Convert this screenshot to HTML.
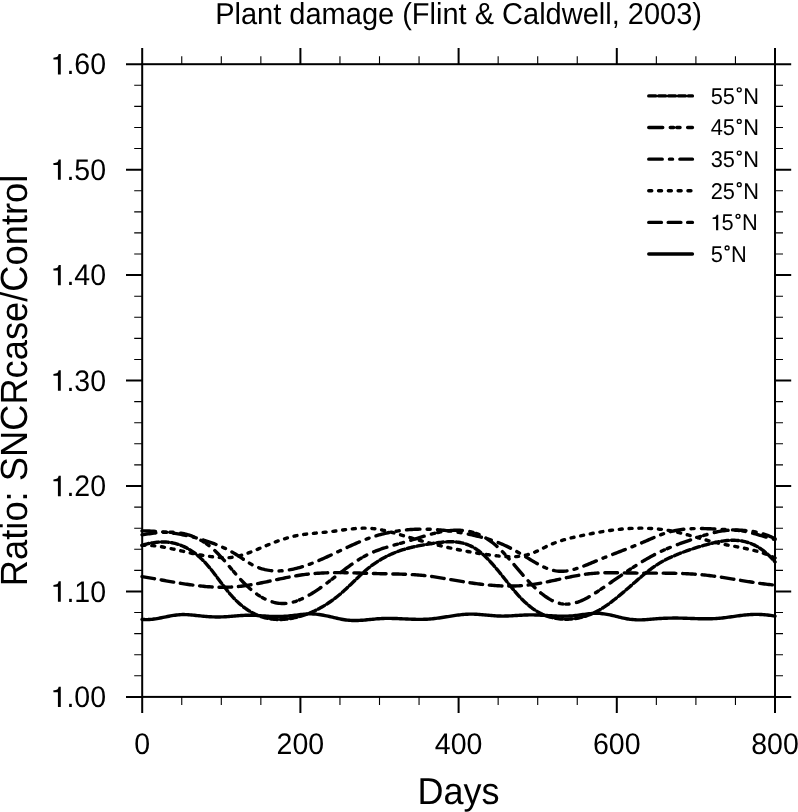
<!DOCTYPE html>
<html><head><meta charset="utf-8"><style>
html,body{margin:0;padding:0;background:#fff;width:798px;height:812px;overflow:hidden}
svg{display:block;will-change:transform}
text{font-family:"Liberation Sans",sans-serif;fill:#000;text-rendering:geometricPrecision}
</style></head><body>
<svg width="798" height="812" viewBox="0 0 798 812">
<rect width="798" height="812" fill="#fff"/>
<text transform="translate(458.6 24.3) scale(1 1.0436)" text-anchor="middle" font-size="29">Plant damage (Flint &amp; Caldwell, 2003)</text>
<g fill="none" stroke="#000" stroke-width="3.4" stroke-linecap="round" stroke-linejoin="round">
<path d="M142.0 619.35 143.5 619.48 145.0 619.56 146.5 619.58 148.0 619.55 149.5 619.48 151.0 619.36 152.5 619.21 154.0 619.02 155.5 618.81 157.0 618.57 158.5 618.31 160.0 618.03 161.5 617.74 163.0 617.44 164.5 617.14 166.0 616.83 167.5 616.53 169.0 616.23 170.5 615.95 172.0 615.68 173.5 615.43 175.0 615.20 176.5 615.00 178.0 614.84 179.5 614.70 181.0 614.61 182.5 614.56 184.0 614.55 185.5 614.58 187.0 614.65 188.5 614.74 190.0 614.86 191.5 614.99 193.0 615.14 194.5 615.30 196.0 615.46 197.5 615.61 199.0 615.77 200.5 615.92 202.0 616.07 203.5 616.21 205.0 616.35 206.5 616.47 208.0 616.58 209.5 616.69 211.0 616.78 212.5 616.85 214.0 616.91 215.5 616.95 217.0 616.98 218.5 616.98 220.0 616.96 221.5 616.92 223.0 616.86 224.5 616.79 226.0 616.70 227.5 616.60 229.0 616.49 230.5 616.37 232.0 616.25 233.5 616.12 235.0 616.00 236.5 615.87 238.0 615.75 239.5 615.64 241.0 615.54 242.5 615.44 244.0 615.36 245.5 615.30 247.0 615.25 248.5 615.23 250.0 615.22 251.5 615.24 253.0 615.28 254.5 615.35 256.0 615.42 257.5 615.51 259.0 615.61 260.5 615.72 262.0 615.83 263.5 615.94 265.0 616.05 266.5 616.15 268.0 616.24 269.5 616.33 271.0 616.40 272.5 616.45 274.0 616.49 275.5 616.52 277.0 616.53 278.5 616.52 280.0 616.49 281.5 616.45 283.0 616.39 284.5 616.31 286.0 616.21 287.5 616.10 289.0 615.96 290.5 615.81 292.0 615.64 293.5 615.46 295.0 615.27 296.5 615.07 298.0 614.87 299.5 614.68 301.0 614.50 302.5 614.34 304.0 614.19 305.5 614.07 307.0 613.97 308.5 613.91 310.0 613.88 311.5 613.90 313.0 613.96 314.5 614.05 316.0 614.18 317.5 614.35 319.0 614.54 320.5 614.76 322.0 615.01 323.5 615.27 325.0 615.56 326.5 615.87 328.0 616.19 329.5 616.52 331.0 616.86 332.5 617.21 334.0 617.56 335.5 617.91 337.0 618.26 338.5 618.59 340.0 618.91 341.5 619.21 343.0 619.49 344.5 619.74 346.0 619.96 347.5 620.15 349.0 620.29 350.5 620.40 352.0 620.47 353.5 620.51 355.0 620.52 356.5 620.50 358.0 620.45 359.5 620.38 361.0 620.30 362.5 620.19 364.0 620.07 365.5 619.94 367.0 619.80 368.5 619.66 370.0 619.51 371.5 619.36 373.0 619.21 374.5 619.07 376.0 618.93 377.5 618.81 379.0 618.70 380.5 618.60 382.0 618.52 383.5 618.47 385.0 618.42 386.5 618.40 388.0 618.39 389.5 618.39 391.0 618.41 392.5 618.44 394.0 618.47 395.5 618.52 397.0 618.57 398.5 618.63 400.0 618.69 401.5 618.76 403.0 618.83 404.5 618.90 406.0 618.97 407.5 619.04 409.0 619.10 410.5 619.16 412.0 619.22 413.5 619.27 415.0 619.31 416.5 619.34 418.0 619.36 419.5 619.37 421.0 619.37 422.5 619.35 424.0 619.32 425.5 619.27 427.0 619.20 428.5 619.11 430.0 619.01 431.5 618.88 433.0 618.73 434.5 618.56 436.0 618.38 437.5 618.18 439.0 617.97 440.5 617.75 442.0 617.52 443.5 617.29 445.0 617.05 446.5 616.80 448.0 616.56 449.5 616.32 451.0 616.08 452.5 615.85 454.0 615.62 455.5 615.40 457.0 615.19 458.5 615.00 460.0 614.82 461.5 614.65 463.0 614.51 464.5 614.38 466.0 614.28 467.5 614.20 469.0 614.14 470.5 614.12 472.0 614.12 473.5 614.15 475.0 614.20 476.5 614.27 478.0 614.36 479.5 614.47 481.0 614.59 482.5 614.71 484.0 614.85 485.5 614.99 487.0 615.13 488.5 615.27 490.0 615.41 491.5 615.54 493.0 615.66 494.5 615.78 496.0 615.88 497.5 615.96 499.0 616.02 500.5 616.06 502.0 616.08 503.5 616.08 505.0 616.06 506.5 616.02 508.0 615.97 509.5 615.91 511.0 615.83 512.5 615.75 514.0 615.66 515.5 615.57 517.0 615.47 518.5 615.38 520.0 615.29 521.5 615.20 523.0 615.12 524.5 615.04 526.0 614.98 527.5 614.93 529.0 614.90 530.5 614.88 532.0 614.89 533.5 614.91 535.0 614.94 536.5 614.99 538.0 615.04 539.5 615.11 541.0 615.19 542.5 615.27 544.0 615.36 545.5 615.45 547.0 615.54 548.5 615.63 550.0 615.72 551.5 615.81 553.0 615.89 554.5 615.96 556.0 616.02 557.5 616.08 559.0 616.12 560.5 616.16 562.0 616.18 563.5 616.18 565.0 616.17 566.5 616.15 568.0 616.10 569.5 616.04 571.0 615.95 572.5 615.85 574.0 615.71 575.5 615.56 577.0 615.38 578.5 615.18 580.0 614.97 581.5 614.75 583.0 614.53 584.5 614.31 586.0 614.10 587.5 613.91 589.0 613.73 590.5 613.57 592.0 613.45 593.5 613.36 595.0 613.31 596.5 613.30 598.0 613.34 599.5 613.42 601.0 613.53 602.5 613.69 604.0 613.87 605.5 614.10 607.0 614.35 608.5 614.63 610.0 614.93 611.5 615.26 613.0 615.61 614.5 615.97 616.0 616.34 617.5 616.71 619.0 617.08 620.5 617.44 622.0 617.79 623.5 618.12 625.0 618.43 626.5 618.71 628.0 618.96 629.5 619.19 631.0 619.38 632.5 619.54 634.0 619.67 635.5 619.77 637.0 619.84 638.5 619.88 640.0 619.89 641.5 619.86 643.0 619.81 644.5 619.74 646.0 619.64 647.5 619.53 649.0 619.41 650.5 619.28 652.0 619.15 653.5 619.01 655.0 618.88 656.5 618.76 658.0 618.65 659.5 618.55 661.0 618.46 662.5 618.38 664.0 618.31 665.5 618.24 667.0 618.19 668.5 618.14 670.0 618.10 671.5 618.08 673.0 618.06 674.5 618.05 676.0 618.05 677.5 618.06 679.0 618.08 680.5 618.11 682.0 618.14 683.5 618.18 685.0 618.23 686.5 618.28 688.0 618.33 689.5 618.39 691.0 618.44 692.5 618.50 694.0 618.55 695.5 618.60 697.0 618.65 698.5 618.69 700.0 618.73 701.5 618.77 703.0 618.79 704.5 618.81 706.0 618.81 707.5 618.81 709.0 618.79 710.5 618.76 712.0 618.72 713.5 618.66 715.0 618.59 716.5 618.50 718.0 618.39 719.5 618.26 721.0 618.11 722.5 617.95 724.0 617.78 725.5 617.59 727.0 617.40 728.5 617.19 730.0 616.98 731.5 616.77 733.0 616.56 734.5 616.34 736.0 616.13 737.5 615.92 739.0 615.71 740.5 615.51 742.0 615.33 743.5 615.15 745.0 614.99 746.5 614.84 748.0 614.70 749.5 614.59 751.0 614.50 752.5 614.43 754.0 614.38 755.5 614.36 757.0 614.36 758.5 614.39 760.0 614.44 761.5 614.51 763.0 614.61 764.5 614.72 766.0 614.86 767.5 615.03 769.0 615.21 770.5 615.42 772.0 615.64 773.5 615.89 775.0 616.16"/>
<path d="M142.0 576.61 143.5 576.86 145.0 577.11 146.5 577.36 148.0 577.62 149.5 577.88 151.0 578.14 152.5 578.40 154.0 578.66 155.5 578.93 157.0 579.20 158.5 579.47 160.0 579.73 161.5 580.00 163.0 580.27 164.5 580.54 166.0 580.81 167.5 581.07 169.0 581.34 170.5 581.60 172.0 581.86 173.5 582.12 175.0 582.38 176.5 582.63 178.0 582.88 179.5 583.12 181.0 583.37 182.5 583.60 184.0 583.84 185.5 584.06 187.0 584.29 188.5 584.51 190.0 584.72 191.5 584.92 193.0 585.12 194.5 585.31 196.0 585.50 197.5 585.68 199.0 585.85 200.5 586.01 202.0 586.16 203.5 586.31 205.0 586.44 206.5 586.57 208.0 586.69 209.5 586.79 211.0 586.89 212.5 586.98 214.0 587.05 215.5 587.12 217.0 587.17 218.5 587.21 220.0 587.24 221.5 587.26 223.0 587.26 224.5 587.25 226.0 587.23 227.5 587.19 229.0 587.14 230.5 587.08 232.0 587.00 233.5 586.90 235.0 586.79 236.5 586.67 238.0 586.53 239.5 586.37 241.0 586.20 242.5 586.02 244.0 585.83 245.5 585.62 247.0 585.40 248.5 585.17 250.0 584.93 251.5 584.68 253.0 584.42 254.5 584.16 256.0 583.88 257.5 583.60 259.0 583.31 260.5 583.02 262.0 582.72 263.5 582.41 265.0 582.10 266.5 581.79 268.0 581.47 269.5 581.16 271.0 580.84 272.5 580.51 274.0 580.19 275.5 579.87 277.0 579.55 278.5 579.23 280.0 578.92 281.5 578.60 283.0 578.29 284.5 577.98 286.0 577.68 287.5 577.38 289.0 577.09 290.5 576.80 292.0 576.52 293.5 576.25 295.0 575.98 296.5 575.73 298.0 575.48 299.5 575.24 301.0 575.02 302.5 574.80 304.0 574.60 305.5 574.41 307.0 574.23 308.5 574.06 310.0 573.90 311.5 573.76 313.0 573.62 314.5 573.50 316.0 573.38 317.5 573.28 319.0 573.18 320.5 573.09 322.0 573.01 323.5 572.94 325.0 572.88 326.5 572.83 328.0 572.78 329.5 572.74 331.0 572.71 332.5 572.68 334.0 572.67 335.5 572.65 337.0 572.65 338.5 572.65 340.0 572.65 341.5 572.66 343.0 572.67 344.5 572.69 346.0 572.71 347.5 572.74 349.0 572.77 350.5 572.80 352.0 572.84 353.5 572.88 355.0 572.92 356.5 572.96 358.0 573.01 359.5 573.05 361.0 573.10 362.5 573.15 364.0 573.20 365.5 573.25 367.0 573.29 368.5 573.34 370.0 573.39 371.5 573.44 373.0 573.49 374.5 573.53 376.0 573.57 377.5 573.62 379.0 573.65 380.5 573.69 382.0 573.72 383.5 573.76 385.0 573.79 386.5 573.81 388.0 573.84 389.5 573.87 391.0 573.90 392.5 573.93 394.0 573.96 395.5 573.99 397.0 574.02 398.5 574.06 400.0 574.09 401.5 574.14 403.0 574.18 404.5 574.23 406.0 574.29 407.5 574.35 409.0 574.42 410.5 574.49 412.0 574.57 413.5 574.66 415.0 574.76 416.5 574.86 418.0 574.97 419.5 575.09 421.0 575.22 422.5 575.37 424.0 575.52 425.5 575.68 427.0 575.86 428.5 576.04 430.0 576.24 431.5 576.45 433.0 576.66 434.5 576.88 436.0 577.11 437.5 577.35 439.0 577.59 440.5 577.84 442.0 578.09 443.5 578.35 445.0 578.61 446.5 578.87 448.0 579.13 449.5 579.39 451.0 579.66 452.5 579.92 454.0 580.18 455.5 580.43 457.0 580.69 458.5 580.94 460.0 581.19 461.5 581.44 463.0 581.68 464.5 581.92 466.0 582.15 467.5 582.38 469.0 582.61 470.5 582.83 472.0 583.05 473.5 583.26 475.0 583.47 476.5 583.67 478.0 583.86 479.5 584.05 481.0 584.23 482.5 584.41 484.0 584.57 485.5 584.73 487.0 584.89 488.5 585.03 490.0 585.17 491.5 585.30 493.0 585.41 494.5 585.52 496.0 585.62 497.5 585.72 499.0 585.80 500.5 585.87 502.0 585.93 503.5 585.98 505.0 586.02 506.5 586.04 508.0 586.06 509.5 586.07 511.0 586.06 512.5 586.04 514.0 586.01 515.5 585.96 517.0 585.90 518.5 585.83 520.0 585.74 521.5 585.65 523.0 585.53 524.5 585.40 526.0 585.26 527.5 585.10 529.0 584.93 530.5 584.74 532.0 584.54 533.5 584.32 535.0 584.09 536.5 583.85 538.0 583.60 539.5 583.34 541.0 583.06 542.5 582.78 544.0 582.49 545.5 582.19 547.0 581.89 548.5 581.58 550.0 581.26 551.5 580.95 553.0 580.62 554.5 580.30 556.0 579.97 557.5 579.64 559.0 579.31 560.5 578.98 562.0 578.65 563.5 578.32 565.0 578.00 566.5 577.68 568.0 577.36 569.5 577.05 571.0 576.75 572.5 576.45 574.0 576.15 575.5 575.87 577.0 575.59 578.5 575.33 580.0 575.07 581.5 574.83 583.0 574.60 584.5 574.38 586.0 574.17 587.5 573.98 589.0 573.80 590.5 573.64 592.0 573.50 593.5 573.37 595.0 573.25 596.5 573.15 598.0 573.06 599.5 572.99 601.0 572.92 602.5 572.87 604.0 572.83 605.5 572.79 607.0 572.77 608.5 572.75 610.0 572.75 611.5 572.74 613.0 572.75 614.5 572.76 616.0 572.77 617.5 572.79 619.0 572.81 620.5 572.84 622.0 572.87 623.5 572.89 625.0 572.92 626.5 572.95 628.0 572.97 629.5 573.00 631.0 573.02 632.5 573.04 634.0 573.05 635.5 573.07 637.0 573.08 638.5 573.09 640.0 573.10 641.5 573.10 643.0 573.11 644.5 573.11 646.0 573.11 647.5 573.12 649.0 573.12 650.5 573.12 652.0 573.12 653.5 573.12 655.0 573.13 656.5 573.13 658.0 573.13 659.5 573.14 661.0 573.14 662.5 573.15 664.0 573.16 665.5 573.18 667.0 573.19 668.5 573.21 670.0 573.23 671.5 573.25 673.0 573.28 674.5 573.31 676.0 573.34 677.5 573.38 679.0 573.42 680.5 573.47 682.0 573.52 683.5 573.58 685.0 573.64 686.5 573.71 688.0 573.78 689.5 573.86 691.0 573.94 692.5 574.03 694.0 574.13 695.5 574.23 697.0 574.34 698.5 574.46 700.0 574.59 701.5 574.72 703.0 574.86 704.5 575.01 706.0 575.17 707.5 575.33 709.0 575.51 710.5 575.69 712.0 575.88 713.5 576.08 715.0 576.28 716.5 576.49 718.0 576.70 719.5 576.92 721.0 577.15 722.5 577.38 724.0 577.61 725.5 577.84 727.0 578.08 728.5 578.33 730.0 578.57 731.5 578.82 733.0 579.07 734.5 579.32 736.0 579.57 737.5 579.82 739.0 580.07 740.5 580.32 742.0 580.58 743.5 580.82 745.0 581.07 746.5 581.32 748.0 581.56 749.5 581.80 751.0 582.04 752.5 582.28 754.0 582.51 755.5 582.73 757.0 582.95 758.5 583.17 760.0 583.38 761.5 583.59 763.0 583.78 764.5 583.98 766.0 584.16 767.5 584.34 769.0 584.51 770.5 584.67 772.0 584.82 773.5 584.96 775.0 585.10" stroke-dasharray="12.7 6.75"/>
<path d="M142.0 545.36 143.5 545.33 145.0 545.32 146.5 545.34 148.0 545.38 149.5 545.45 151.0 545.55 152.5 545.67 154.0 545.81 155.5 545.97 157.0 546.15 158.5 546.35 160.0 546.56 161.5 546.80 163.0 547.04 164.5 547.31 166.0 547.58 167.5 547.87 169.0 548.17 170.5 548.48 172.0 548.80 173.5 549.12 175.0 549.45 176.5 549.79 178.0 550.13 179.5 550.48 181.0 550.83 182.5 551.17 184.0 551.52 185.5 551.87 187.0 552.21 188.5 552.55 190.0 552.89 191.5 553.22 193.0 553.55 194.5 553.86 196.0 554.17 197.5 554.47 199.0 554.75 200.5 555.03 202.0 555.29 203.5 555.54 205.0 555.78 206.5 556.00 208.0 556.21 209.5 556.41 211.0 556.60 212.5 556.78 214.0 556.94 215.5 557.09 217.0 557.24 218.5 557.36 220.0 557.48 221.5 557.58 223.0 557.66 224.5 557.71 226.0 557.73 227.5 557.70 229.0 557.63 230.5 557.51 232.0 557.33 233.5 557.12 235.0 556.86 236.5 556.55 238.0 556.21 239.5 555.84 241.0 555.42 242.5 554.98 244.0 554.51 245.5 554.01 247.0 553.48 248.5 552.93 250.0 552.37 251.5 551.78 253.0 551.18 254.5 550.57 256.0 549.95 257.5 549.32 259.0 548.68 260.5 548.04 262.0 547.40 263.5 546.76 265.0 546.13 266.5 545.50 268.0 544.88 269.5 544.26 271.0 543.66 272.5 543.06 274.0 542.48 275.5 541.91 277.0 541.35 278.5 540.81 280.0 540.28 281.5 539.76 283.0 539.26 284.5 538.78 286.0 538.32 287.5 537.88 289.0 537.45 290.5 537.05 292.0 536.67 293.5 536.32 295.0 535.99 296.5 535.68 298.0 535.39 299.5 535.12 301.0 534.87 302.5 534.63 304.0 534.41 305.5 534.21 307.0 534.02 308.5 533.84 310.0 533.67 311.5 533.51 313.0 533.36 314.5 533.21 316.0 533.07 317.5 532.93 319.0 532.79 320.5 532.66 322.0 532.52 323.5 532.38 325.0 532.24 326.5 532.09 328.0 531.93 329.5 531.77 331.0 531.60 332.5 531.42 334.0 531.23 335.5 531.03 337.0 530.83 338.5 530.62 340.0 530.42 341.5 530.21 343.0 530.00 344.5 529.80 346.0 529.60 347.5 529.41 349.0 529.22 350.5 529.05 352.0 528.88 353.5 528.73 355.0 528.59 356.5 528.47 358.0 528.36 359.5 528.28 361.0 528.21 362.5 528.17 364.0 528.15 365.5 528.15 367.0 528.18 368.5 528.24 370.0 528.33 371.5 528.44 373.0 528.59 374.5 528.76 376.0 528.96 377.5 529.19 379.0 529.43 380.5 529.70 382.0 529.99 383.5 530.30 385.0 530.63 386.5 530.97 388.0 531.33 389.5 531.70 391.0 532.09 392.5 532.49 394.0 532.90 395.5 533.32 397.0 533.75 398.5 534.18 400.0 534.62 401.5 535.06 403.0 535.51 404.5 535.96 406.0 536.41 407.5 536.86 409.0 537.30 410.5 537.74 412.0 538.18 413.5 538.62 415.0 539.05 416.5 539.48 418.0 539.90 419.5 540.32 421.0 540.74 422.5 541.15 424.0 541.56 425.5 541.96 427.0 542.36 428.5 542.76 430.0 543.15 431.5 543.53 433.0 543.92 434.5 544.29 436.0 544.67 437.5 545.04 439.0 545.40 440.5 545.76 442.0 546.12 443.5 546.47 445.0 546.82 446.5 547.16 448.0 547.50 449.5 547.83 451.0 548.16 452.5 548.49 454.0 548.81 455.5 549.12 457.0 549.43 458.5 549.74 460.0 550.04 461.5 550.34 463.0 550.63 464.5 550.91 466.0 551.19 467.5 551.47 469.0 551.74 470.5 552.01 472.0 552.27 473.5 552.53 475.0 552.78 476.5 553.02 478.0 553.26 479.5 553.50 481.0 553.73 482.5 553.95 484.0 554.17 485.5 554.39 487.0 554.60 488.5 554.80 490.0 555.00 491.5 555.19 493.0 555.38 494.5 555.56 496.0 555.74 497.5 555.91 499.0 556.06 500.5 556.21 502.0 556.34 503.5 556.46 505.0 556.56 506.5 556.64 508.0 556.70 509.5 556.74 511.0 556.75 512.5 556.74 514.0 556.70 515.5 556.62 517.0 556.52 518.5 556.38 520.0 556.20 521.5 555.99 523.0 555.74 524.5 555.44 526.0 555.11 527.5 554.72 529.0 554.29 530.5 553.81 532.0 553.28 533.5 552.70 535.0 552.07 536.5 551.40 538.0 550.69 539.5 549.96 541.0 549.22 542.5 548.46 544.0 547.71 545.5 546.96 547.0 546.23 548.5 545.52 550.0 544.85 551.5 544.20 553.0 543.58 554.5 543.00 556.0 542.43 557.5 541.90 559.0 541.39 560.5 540.90 562.0 540.43 563.5 539.98 565.0 539.55 566.5 539.14 568.0 538.74 569.5 538.36 571.0 537.99 572.5 537.63 574.0 537.28 575.5 536.94 577.0 536.60 578.5 536.28 580.0 535.95 581.5 535.64 583.0 535.32 584.5 535.01 586.0 534.70 587.5 534.39 589.0 534.09 590.5 533.80 592.0 533.51 593.5 533.22 595.0 532.94 596.5 532.66 598.0 532.40 599.5 532.13 601.0 531.87 602.5 531.62 604.0 531.38 605.5 531.14 607.0 530.91 608.5 530.69 610.0 530.48 611.5 530.27 613.0 530.07 614.5 529.88 616.0 529.70 617.5 529.53 619.0 529.36 620.5 529.21 622.0 529.06 623.5 528.93 625.0 528.81 626.5 528.69 628.0 528.59 629.5 528.50 631.0 528.41 632.5 528.34 634.0 528.28 635.5 528.24 637.0 528.20 638.5 528.18 640.0 528.16 641.5 528.16 643.0 528.18 644.5 528.20 646.0 528.24 647.5 528.29 649.0 528.35 650.5 528.43 652.0 528.52 653.5 528.63 655.0 528.74 656.5 528.88 658.0 529.02 659.5 529.19 661.0 529.36 662.5 529.55 664.0 529.76 665.5 529.98 667.0 530.22 668.5 530.47 670.0 530.74 671.5 531.02 673.0 531.32 674.5 531.63 676.0 531.96 677.5 532.30 679.0 532.65 680.5 533.01 682.0 533.38 683.5 533.76 685.0 534.15 686.5 534.55 688.0 534.95 689.5 535.36 691.0 535.78 692.5 536.19 694.0 536.61 695.5 537.04 697.0 537.46 698.5 537.88 700.0 538.31 701.5 538.73 703.0 539.15 704.5 539.57 706.0 539.98 707.5 540.39 709.0 540.80 710.5 541.20 712.0 541.59 713.5 541.97 715.0 542.34 716.5 542.71 718.0 543.06 719.5 543.40 721.0 543.73 722.5 544.05 724.0 544.36 725.5 544.67 727.0 544.96 728.5 545.25 730.0 545.54 731.5 545.82 733.0 546.10 734.5 546.38 736.0 546.66 737.5 546.94 739.0 547.22 740.5 547.51 742.0 547.80 743.5 548.10 745.0 548.40 746.5 548.72 748.0 549.04 749.5 549.38 751.0 549.73 752.5 550.09 754.0 550.46 755.5 550.86 757.0 551.27 758.5 551.69 760.0 552.14 761.5 552.61 763.0 553.10 764.5 553.61 766.0 554.15 767.5 554.71 769.0 555.30 770.5 555.92 772.0 556.57 773.5 557.25 775.0 557.96" stroke-dasharray="3.0 6.8"/>
<path d="M142.0 530.86 143.5 530.88 145.0 530.91 146.5 530.95 148.0 530.99 149.5 531.04 151.0 531.10 152.5 531.18 154.0 531.26 155.5 531.35 157.0 531.45 158.5 531.55 160.0 531.67 161.5 531.80 163.0 531.94 164.5 532.09 166.0 532.25 167.5 532.42 169.0 532.60 170.5 532.79 172.0 532.99 173.5 533.21 175.0 533.43 176.5 533.67 178.0 533.92 179.5 534.18 181.0 534.45 182.5 534.73 184.0 535.03 185.5 535.33 187.0 535.65 188.5 535.99 190.0 536.33 191.5 536.69 193.0 537.06 194.5 537.45 196.0 537.84 197.5 538.25 199.0 538.68 200.5 539.12 202.0 539.57 203.5 540.03 205.0 540.51 206.5 541.01 208.0 541.52 209.5 542.04 211.0 542.58 212.5 543.13 214.0 543.70 215.5 544.28 217.0 544.88 218.5 545.49 220.0 546.12 221.5 546.77 223.0 547.44 224.5 548.13 226.0 548.84 227.5 549.58 229.0 550.35 230.5 551.15 232.0 551.98 233.5 552.85 235.0 553.75 236.5 554.70 238.0 555.67 239.5 556.66 241.0 557.67 242.5 558.69 244.0 559.70 245.5 560.69 247.0 561.67 248.5 562.61 250.0 563.51 251.5 564.37 253.0 565.16 254.5 565.90 256.0 566.59 257.5 567.22 259.0 567.79 260.5 568.31 262.0 568.79 263.5 569.21 265.0 569.58 266.5 569.91 268.0 570.19 269.5 570.42 271.0 570.61 272.5 570.76 274.0 570.87 275.5 570.93 277.0 570.96 278.5 570.95 280.0 570.91 281.5 570.82 283.0 570.71 284.5 570.56 286.0 570.38 287.5 570.17 289.0 569.93 290.5 569.66 292.0 569.37 293.5 569.05 295.0 568.70 296.5 568.33 298.0 567.94 299.5 567.52 301.0 567.08 302.5 566.62 304.0 566.14 305.5 565.64 307.0 565.13 308.5 564.59 310.0 564.04 311.5 563.47 313.0 562.89 314.5 562.29 316.0 561.68 317.5 561.06 319.0 560.42 320.5 559.78 322.0 559.12 323.5 558.45 325.0 557.78 326.5 557.10 328.0 556.41 329.5 555.72 331.0 555.02 332.5 554.31 334.0 553.61 335.5 552.90 337.0 552.19 338.5 551.48 340.0 550.77 341.5 550.05 343.0 549.35 344.5 548.64 346.0 547.94 347.5 547.24 349.0 546.54 350.5 545.85 352.0 545.17 353.5 544.50 355.0 543.83 356.5 543.18 358.0 542.53 359.5 541.90 361.0 541.27 362.5 540.66 364.0 540.07 365.5 539.48 367.0 538.92 368.5 538.36 370.0 537.83 371.5 537.31 373.0 536.81 374.5 536.33 376.0 535.86 377.5 535.41 379.0 534.98 380.5 534.57 382.0 534.17 383.5 533.79 385.0 533.42 386.5 533.07 388.0 532.74 389.5 532.42 391.0 532.12 392.5 531.83 394.0 531.56 395.5 531.30 397.0 531.06 398.5 530.84 400.0 530.62 401.5 530.43 403.0 530.25 404.5 530.08 406.0 529.92 407.5 529.78 409.0 529.66 410.5 529.55 412.0 529.45 413.5 529.36 415.0 529.29 416.5 529.23 418.0 529.19 419.5 529.15 421.0 529.13 422.5 529.13 424.0 529.13 425.5 529.15 427.0 529.18 428.5 529.22 430.0 529.27 431.5 529.34 433.0 529.41 434.5 529.50 436.0 529.60 437.5 529.71 439.0 529.83 440.5 529.96 442.0 530.10 443.5 530.26 445.0 530.42 446.5 530.59 448.0 530.78 449.5 530.97 451.0 531.17 452.5 531.38 454.0 531.61 455.5 531.84 457.0 532.08 458.5 532.33 460.0 532.59 461.5 532.85 463.0 533.13 464.5 533.41 466.0 533.70 467.5 534.00 469.0 534.31 470.5 534.63 472.0 534.95 473.5 535.28 475.0 535.63 476.5 535.98 478.0 536.34 479.5 536.71 481.0 537.09 482.5 537.49 484.0 537.90 485.5 538.32 487.0 538.76 488.5 539.21 490.0 539.68 491.5 540.17 493.0 540.67 494.5 541.20 496.0 541.74 497.5 542.30 499.0 542.89 500.5 543.49 502.0 544.12 503.5 544.77 505.0 545.45 506.5 546.15 508.0 546.87 509.5 547.62 511.0 548.40 512.5 549.19 514.0 550.01 515.5 550.84 517.0 551.69 518.5 552.55 520.0 553.43 521.5 554.31 523.0 555.21 524.5 556.10 526.0 557.01 527.5 557.91 529.0 558.82 530.5 559.72 532.0 560.62 533.5 561.51 535.0 562.38 536.5 563.24 538.0 564.07 539.5 564.88 541.0 565.66 542.5 566.40 544.0 567.11 545.5 567.77 547.0 568.39 548.5 568.96 550.0 569.48 551.5 569.94 553.0 570.33 554.5 570.67 556.0 570.93 557.5 571.12 559.0 571.25 560.5 571.30 562.0 571.30 563.5 571.24 565.0 571.12 566.5 570.94 568.0 570.72 569.5 570.45 571.0 570.13 572.5 569.77 574.0 569.38 575.5 568.95 577.0 568.48 578.5 567.99 580.0 567.47 581.5 566.92 583.0 566.36 584.5 565.77 586.0 565.17 587.5 564.56 589.0 563.94 590.5 563.32 592.0 562.69 593.5 562.06 595.0 561.44 596.5 560.82 598.0 560.21 599.5 559.60 601.0 558.99 602.5 558.39 604.0 557.79 605.5 557.20 607.0 556.61 608.5 556.02 610.0 555.44 611.5 554.85 613.0 554.27 614.5 553.69 616.0 553.11 617.5 552.52 619.0 551.94 620.5 551.36 622.0 550.78 623.5 550.19 625.0 549.61 626.5 549.02 628.0 548.43 629.5 547.83 631.0 547.24 632.5 546.64 634.0 546.03 635.5 545.42 637.0 544.80 638.5 544.18 640.0 543.56 641.5 542.93 643.0 542.29 644.5 541.64 646.0 540.99 647.5 540.33 649.0 539.67 650.5 539.02 652.0 538.37 653.5 537.72 655.0 537.08 656.5 536.46 658.0 535.85 659.5 535.26 661.0 534.69 662.5 534.14 664.0 533.61 665.5 533.12 667.0 532.65 668.5 532.21 670.0 531.81 671.5 531.42 673.0 531.07 674.5 530.74 676.0 530.44 677.5 530.17 679.0 529.91 680.5 529.69 682.0 529.48 683.5 529.30 685.0 529.14 686.5 529.00 688.0 528.88 689.5 528.78 691.0 528.70 692.5 528.63 694.0 528.58 695.5 528.54 697.0 528.52 698.5 528.51 700.0 528.51 701.5 528.53 703.0 528.55 704.5 528.59 706.0 528.63 707.5 528.68 709.0 528.74 710.5 528.80 712.0 528.87 713.5 528.94 715.0 529.02 716.5 529.10 718.0 529.18 719.5 529.26 721.0 529.34 722.5 529.42 724.0 529.49 725.5 529.56 727.0 529.63 728.5 529.70 730.0 529.76 731.5 529.82 733.0 529.87 734.5 529.93 736.0 530.00 737.5 530.07 739.0 530.14 740.5 530.23 742.0 530.32 743.5 530.43 745.0 530.56 746.5 530.70 748.0 530.85 749.5 531.03 751.0 531.23 752.5 531.45 754.0 531.70 755.5 531.97 757.0 532.28 758.5 532.61 760.0 532.97 761.5 533.37 763.0 533.81 764.5 534.28 766.0 534.80 767.5 535.35 769.0 535.95 770.5 536.59 772.0 537.28 773.5 538.02 775.0 538.81" stroke-dasharray="13.5 7.2 3.1 7.3"/>
<path d="M142.0 534.82 143.5 534.59 145.0 534.36 146.5 534.13 148.0 533.91 149.5 533.70 151.0 533.49 152.5 533.30 154.0 533.11 155.5 532.94 157.0 532.78 158.5 532.64 160.0 532.51 161.5 532.40 163.0 532.31 164.5 532.24 166.0 532.20 167.5 532.17 169.0 532.17 170.5 532.19 172.0 532.24 173.5 532.32 175.0 532.43 176.5 532.57 178.0 532.74 179.5 532.94 181.0 533.18 182.5 533.46 184.0 533.77 185.5 534.12 187.0 534.51 188.5 534.94 190.0 535.42 191.5 535.94 193.0 536.50 194.5 537.11 196.0 537.77 197.5 538.48 199.0 539.23 200.5 540.04 202.0 540.90 203.5 541.82 205.0 542.79 206.5 543.82 208.0 544.91 209.5 546.06 211.0 547.26 212.5 548.53 214.0 549.87 215.5 551.27 217.0 552.73 218.5 554.26 220.0 555.83 221.5 557.46 223.0 559.13 224.5 560.83 226.0 562.56 227.5 564.31 229.0 566.08 230.5 567.85 232.0 569.62 233.5 571.39 235.0 573.15 236.5 574.88 238.0 576.59 239.5 578.27 241.0 579.91 242.5 581.50 244.0 583.04 245.5 584.53 247.0 585.97 248.5 587.36 250.0 588.69 251.5 589.97 253.0 591.20 254.5 592.37 256.0 593.49 257.5 594.55 259.0 595.55 260.5 596.50 262.0 597.39 263.5 598.22 265.0 598.99 266.5 599.71 268.0 600.36 269.5 600.96 271.0 601.49 272.5 601.96 274.0 602.37 275.5 602.72 277.0 603.01 278.5 603.23 280.0 603.38 281.5 603.48 283.0 603.50 284.5 603.46 286.0 603.36 287.5 603.20 289.0 602.98 290.5 602.69 292.0 602.36 293.5 601.96 295.0 601.52 296.5 601.02 298.0 600.48 299.5 599.89 301.0 599.25 302.5 598.58 304.0 597.86 305.5 597.10 307.0 596.30 308.5 595.47 310.0 594.60 311.5 593.70 313.0 592.77 314.5 591.82 316.0 590.83 317.5 589.82 319.0 588.79 320.5 587.74 322.0 586.67 323.5 585.58 325.0 584.48 326.5 583.36 328.0 582.24 329.5 581.10 331.0 579.95 332.5 578.80 334.0 577.65 335.5 576.49 337.0 575.33 338.5 574.17 340.0 573.02 341.5 571.87 343.0 570.73 344.5 569.60 346.0 568.47 347.5 567.36 349.0 566.27 350.5 565.19 352.0 564.13 353.5 563.09 355.0 562.07 356.5 561.08 358.0 560.11 359.5 559.16 361.0 558.25 362.5 557.37 364.0 556.52 365.5 555.71 367.0 554.93 368.5 554.18 370.0 553.47 371.5 552.79 373.0 552.14 374.5 551.51 376.0 550.91 377.5 550.33 379.0 549.78 380.5 549.25 382.0 548.73 383.5 548.24 385.0 547.75 386.5 547.29 388.0 546.83 389.5 546.39 391.0 545.95 392.5 545.53 394.0 545.10 395.5 544.69 397.0 544.27 398.5 543.86 400.0 543.44 401.5 543.02 403.0 542.60 404.5 542.17 406.0 541.74 407.5 541.29 409.0 540.84 410.5 540.39 412.0 539.93 413.5 539.46 415.0 539.00 416.5 538.53 418.0 538.06 419.5 537.60 421.0 537.13 422.5 536.68 424.0 536.22 425.5 535.78 427.0 535.34 428.5 534.91 430.0 534.49 431.5 534.09 433.0 533.69 434.5 533.31 436.0 532.95 437.5 532.60 439.0 532.27 440.5 531.96 442.0 531.67 443.5 531.41 445.0 531.16 446.5 530.94 448.0 530.75 449.5 530.58 451.0 530.44 452.5 530.33 454.0 530.25 455.5 530.20 457.0 530.19 458.5 530.21 460.0 530.26 461.5 530.35 463.0 530.48 464.5 530.65 466.0 530.86 467.5 531.11 469.0 531.41 470.5 531.75 472.0 532.13 473.5 532.56 475.0 533.04 476.5 533.57 478.0 534.15 479.5 534.79 481.0 535.47 482.5 536.21 484.0 537.01 485.5 537.86 487.0 538.77 488.5 539.74 490.0 540.77 491.5 541.86 493.0 543.02 494.5 544.24 496.0 545.52 497.5 546.87 499.0 548.27 500.5 549.72 502.0 551.23 503.5 552.78 505.0 554.37 506.5 556.00 508.0 557.67 509.5 559.36 511.0 561.09 512.5 562.84 514.0 564.60 515.5 566.37 517.0 568.15 518.5 569.92 520.0 571.68 521.5 573.43 523.0 575.16 524.5 576.85 526.0 578.52 527.5 580.16 529.0 581.76 530.5 583.33 532.0 584.86 533.5 586.35 535.0 587.79 536.5 589.19 538.0 590.54 539.5 591.85 541.0 593.10 542.5 594.29 544.0 595.43 545.5 596.51 547.0 597.53 548.5 598.49 550.0 599.37 551.5 600.20 553.0 600.95 554.5 601.62 556.0 602.23 557.5 602.75 559.0 603.20 560.5 603.56 562.0 603.84 563.5 604.03 565.0 604.14 566.5 604.17 568.0 604.12 569.5 603.99 571.0 603.79 572.5 603.52 574.0 603.18 575.5 602.78 577.0 602.32 578.5 601.80 580.0 601.23 581.5 600.60 583.0 599.93 584.5 599.22 586.0 598.46 587.5 597.66 589.0 596.82 590.5 595.95 592.0 595.06 593.5 594.13 595.0 593.18 596.5 592.22 598.0 591.23 599.5 590.23 601.0 589.21 602.5 588.19 604.0 587.17 605.5 586.13 607.0 585.10 608.5 584.07 610.0 583.03 611.5 581.99 613.0 580.96 614.5 579.92 616.0 578.88 617.5 577.85 619.0 576.82 620.5 575.79 622.0 574.76 623.5 573.74 625.0 572.73 626.5 571.72 628.0 570.71 629.5 569.72 631.0 568.73 632.5 567.74 634.0 566.77 635.5 565.81 637.0 564.85 638.5 563.91 640.0 562.98 641.5 562.06 643.0 561.15 644.5 560.25 646.0 559.37 647.5 558.50 649.0 557.65 650.5 556.82 652.0 556.00 653.5 555.19 655.0 554.41 656.5 553.64 658.0 552.89 659.5 552.16 661.0 551.45 662.5 550.75 664.0 550.07 665.5 549.41 667.0 548.76 668.5 548.13 670.0 547.51 671.5 546.90 673.0 546.31 674.5 545.72 676.0 545.15 677.5 544.58 679.0 544.02 680.5 543.47 682.0 542.93 683.5 542.39 685.0 541.86 686.5 541.33 688.0 540.81 689.5 540.29 691.0 539.77 692.5 539.25 694.0 538.73 695.5 538.21 697.0 537.70 698.5 537.19 700.0 536.69 701.5 536.20 703.0 535.72 704.5 535.24 706.0 534.78 707.5 534.34 709.0 533.90 710.5 533.49 712.0 533.09 713.5 532.71 715.0 532.35 716.5 532.01 718.0 531.69 719.5 531.40 721.0 531.14 722.5 530.90 724.0 530.70 725.5 530.52 727.0 530.37 728.5 530.26 730.0 530.18 731.5 530.14 733.0 530.13 734.5 530.16 736.0 530.23 737.5 530.35 739.0 530.49 740.5 530.68 742.0 530.89 743.5 531.14 745.0 531.42 746.5 531.72 748.0 532.04 749.5 532.39 751.0 532.76 752.5 533.15 754.0 533.55 755.5 533.96 757.0 534.39 758.5 534.82 760.0 535.26 761.5 535.71 763.0 536.16 764.5 536.61 766.0 537.06 767.5 537.50 769.0 537.94 770.5 538.37 772.0 538.79 773.5 539.19 775.0 539.59" stroke-dasharray="14 7.5 3.4 3.1 3.3 7.6"/>
<path d="M142.0 545.29 143.5 544.85 145.0 544.44 146.5 544.05 148.0 543.69 149.5 543.36 151.0 543.06 152.5 542.80 154.0 542.57 155.5 542.37 157.0 542.20 158.5 542.08 160.0 541.99 161.5 541.94 163.0 541.93 164.5 541.96 166.0 542.04 167.5 542.15 169.0 542.32 170.5 542.52 172.0 542.78 173.5 543.08 175.0 543.43 176.5 543.83 178.0 544.28 179.5 544.79 181.0 545.34 182.5 545.96 184.0 546.62 185.5 547.35 187.0 548.13 188.5 548.97 190.0 549.87 191.5 550.83 193.0 551.86 194.5 552.95 196.0 554.10 197.5 555.32 199.0 556.60 200.5 557.96 202.0 559.38 203.5 560.87 205.0 562.43 206.5 564.07 208.0 565.78 209.5 567.56 211.0 569.41 212.5 571.30 214.0 573.24 215.5 575.21 217.0 577.20 218.5 579.20 220.0 581.20 221.5 583.19 223.0 585.17 224.5 587.12 226.0 589.03 227.5 590.91 229.0 592.73 230.5 594.50 232.0 596.20 233.5 597.82 235.0 599.38 236.5 600.88 238.0 602.30 239.5 603.66 241.0 604.95 242.5 606.19 244.0 607.35 245.5 608.46 247.0 609.51 248.5 610.49 250.0 611.42 251.5 612.30 253.0 613.11 254.5 613.87 256.0 614.58 257.5 615.24 259.0 615.84 260.5 616.39 262.0 616.89 263.5 617.35 265.0 617.76 266.5 618.12 268.0 618.43 269.5 618.71 271.0 618.94 272.5 619.12 274.0 619.27 275.5 619.38 277.0 619.44 278.5 619.48 280.0 619.47 281.5 619.43 283.0 619.35 284.5 619.25 286.0 619.10 287.5 618.93 289.0 618.73 290.5 618.50 292.0 618.24 293.5 617.96 295.0 617.64 296.5 617.30 298.0 616.93 299.5 616.53 301.0 616.11 302.5 615.65 304.0 615.16 305.5 614.65 307.0 614.11 308.5 613.53 310.0 612.93 311.5 612.29 313.0 611.63 314.5 610.94 316.0 610.21 317.5 609.46 319.0 608.67 320.5 607.85 322.0 607.00 323.5 606.12 325.0 605.20 326.5 604.26 328.0 603.28 329.5 602.27 331.0 601.23 332.5 600.15 334.0 599.04 335.5 597.90 337.0 596.72 338.5 595.51 340.0 594.27 341.5 592.99 343.0 591.68 344.5 590.33 346.0 588.96 347.5 587.55 349.0 586.12 350.5 584.67 352.0 583.22 353.5 581.76 355.0 580.30 356.5 578.84 358.0 577.40 359.5 575.97 361.0 574.56 362.5 573.19 364.0 571.84 365.5 570.54 367.0 569.27 368.5 568.05 370.0 566.87 371.5 565.74 373.0 564.64 374.5 563.58 376.0 562.55 377.5 561.57 379.0 560.62 380.5 559.71 382.0 558.83 383.5 557.99 385.0 557.18 386.5 556.40 388.0 555.66 389.5 554.94 391.0 554.26 392.5 553.60 394.0 552.97 395.5 552.37 397.0 551.79 398.5 551.24 400.0 550.72 401.5 550.21 403.0 549.73 404.5 549.27 406.0 548.83 407.5 548.41 409.0 548.01 410.5 547.63 412.0 547.26 413.5 546.91 415.0 546.58 416.5 546.25 418.0 545.95 419.5 545.65 421.0 545.36 422.5 545.09 424.0 544.82 425.5 544.57 427.0 544.32 428.5 544.08 430.0 543.84 431.5 543.61 433.0 543.38 434.5 543.16 436.0 542.94 437.5 542.73 439.0 542.54 440.5 542.36 442.0 542.19 443.5 542.05 445.0 541.93 446.5 541.83 448.0 541.76 449.5 541.72 451.0 541.72 452.5 541.75 454.0 541.82 455.5 541.93 457.0 542.08 458.5 542.28 460.0 542.53 461.5 542.83 463.0 543.19 464.5 543.60 466.0 544.08 467.5 544.61 469.0 545.21 470.5 545.88 472.0 546.62 473.5 547.43 475.0 548.32 476.5 549.29 478.0 550.34 479.5 551.47 481.0 552.68 482.5 553.96 484.0 555.32 485.5 556.74 487.0 558.22 488.5 559.76 490.0 561.35 491.5 563.00 493.0 564.68 494.5 566.41 496.0 568.17 497.5 569.96 499.0 571.78 500.5 573.63 502.0 575.49 503.5 577.36 505.0 579.24 506.5 581.12 508.0 583.00 509.5 584.87 511.0 586.72 512.5 588.55 514.0 590.35 515.5 592.11 517.0 593.84 518.5 595.52 520.0 597.15 521.5 598.72 523.0 600.23 524.5 601.68 526.0 603.07 527.5 604.40 529.0 605.67 530.5 606.87 532.0 608.01 533.5 609.09 535.0 610.10 536.5 611.05 538.0 611.94 539.5 612.76 541.0 613.53 542.5 614.25 544.0 614.90 545.5 615.51 547.0 616.06 548.5 616.56 550.0 617.02 551.5 617.42 553.0 617.78 554.5 618.10 556.0 618.37 557.5 618.61 559.0 618.80 560.5 618.95 562.0 619.07 563.5 619.15 565.0 619.20 566.5 619.21 568.0 619.19 569.5 619.13 571.0 619.03 572.5 618.90 574.0 618.73 575.5 618.52 577.0 618.28 578.5 618.00 580.0 617.68 581.5 617.32 583.0 616.93 584.5 616.49 586.0 616.01 587.5 615.50 589.0 614.95 590.5 614.35 592.0 613.72 593.5 613.04 595.0 612.32 596.5 611.56 598.0 610.76 599.5 609.92 601.0 609.03 602.5 608.11 604.0 607.15 605.5 606.15 607.0 605.12 608.5 604.06 610.0 602.96 611.5 601.84 613.0 600.70 614.5 599.53 616.0 598.33 617.5 597.12 619.0 595.89 620.5 594.64 622.0 593.38 623.5 592.10 625.0 590.82 626.5 589.52 628.0 588.22 629.5 586.91 631.0 585.60 632.5 584.29 634.0 582.98 635.5 581.68 637.0 580.38 638.5 579.08 640.0 577.80 641.5 576.53 643.0 575.27 644.5 574.03 646.0 572.81 647.5 571.61 649.0 570.44 650.5 569.30 652.0 568.18 653.5 567.10 655.0 566.05 656.5 565.03 658.0 564.06 659.5 563.12 661.0 562.23 662.5 561.39 664.0 560.58 665.5 559.81 667.0 559.06 668.5 558.34 670.0 557.64 671.5 556.96 673.0 556.29 674.5 555.64 676.0 555.00 677.5 554.38 679.0 553.77 680.5 553.18 682.0 552.60 683.5 552.03 685.0 551.48 686.5 550.93 688.0 550.40 689.5 549.89 691.0 549.38 692.5 548.88 694.0 548.39 695.5 547.92 697.0 547.45 698.5 546.99 700.0 546.54 701.5 546.10 703.0 545.67 704.5 545.24 706.0 544.83 707.5 544.42 709.0 544.01 710.5 543.62 712.0 543.25 713.5 542.88 715.0 542.53 716.5 542.20 718.0 541.89 719.5 541.60 721.0 541.34 722.5 541.10 724.0 540.88 725.5 540.70 727.0 540.54 728.5 540.42 730.0 540.33 731.5 540.27 733.0 540.25 734.5 540.27 736.0 540.33 737.5 540.44 739.0 540.59 740.5 540.78 742.0 541.02 743.5 541.31 745.0 541.66 746.5 542.05 748.0 542.50 749.5 543.01 751.0 543.57 752.5 544.20 754.0 544.88 755.5 545.63 757.0 546.45 758.5 547.33 760.0 548.28 761.5 549.30 763.0 550.40 764.5 551.56 766.0 552.81 767.5 554.13 769.0 555.53 770.5 557.01 772.0 558.57 773.5 560.22 775.0 561.96" stroke-dasharray="7 2.9"/>
</g>
<path d="M142.20 696.90v16.2M142.20 64.20v-16.2M300.40 696.90v16.2M300.40 64.20v-16.2M458.60 696.90v16.2M458.60 64.20v-16.2M616.80 696.90v16.2M616.80 64.20v-16.2M775.00 696.90v16.2M775.00 64.20v-16.2M142.20 696.90h-16.2M775.00 696.90h16.2M142.20 591.45h-16.2M775.00 591.45h16.2M142.20 486.00h-16.2M775.00 486.00h16.2M142.20 380.55h-16.2M775.00 380.55h16.2M142.20 275.10h-16.2M775.00 275.10h16.2M142.20 169.65h-16.2M775.00 169.65h16.2M142.20 64.20h-16.2M775.00 64.20h16.2" stroke="#000" stroke-width="2" fill="none"/>
<path d="M181.75 696.90v8.0M181.75 64.20v-8.0M221.30 696.90v8.0M221.30 64.20v-8.0M260.85 696.90v8.0M260.85 64.20v-8.0M339.95 696.90v8.0M339.95 64.20v-8.0M379.50 696.90v8.0M379.50 64.20v-8.0M419.05 696.90v8.0M419.05 64.20v-8.0M498.15 696.90v8.0M498.15 64.20v-8.0M537.70 696.90v8.0M537.70 64.20v-8.0M577.25 696.90v8.0M577.25 64.20v-8.0M656.35 696.90v8.0M656.35 64.20v-8.0M695.90 696.90v8.0M695.90 64.20v-8.0M735.45 696.90v8.0M735.45 64.20v-8.0M142.20 675.81h-8.0M775.00 675.81h8.0M142.20 654.72h-8.0M775.00 654.72h8.0M142.20 633.63h-8.0M775.00 633.63h8.0M142.20 612.54h-8.0M775.00 612.54h8.0M142.20 570.36h-8.0M775.00 570.36h8.0M142.20 549.27h-8.0M775.00 549.27h8.0M142.20 528.18h-8.0M775.00 528.18h8.0M142.20 507.09h-8.0M775.00 507.09h8.0M142.20 464.91h-8.0M775.00 464.91h8.0M142.20 443.82h-8.0M775.00 443.82h8.0M142.20 422.73h-8.0M775.00 422.73h8.0M142.20 401.64h-8.0M775.00 401.64h8.0M142.20 359.46h-8.0M775.00 359.46h8.0M142.20 338.37h-8.0M775.00 338.37h8.0M142.20 317.28h-8.0M775.00 317.28h8.0M142.20 296.19h-8.0M775.00 296.19h8.0M142.20 254.01h-8.0M775.00 254.01h8.0M142.20 232.92h-8.0M775.00 232.92h8.0M142.20 211.83h-8.0M775.00 211.83h8.0M142.20 190.74h-8.0M775.00 190.74h8.0M142.20 148.56h-8.0M775.00 148.56h8.0M142.20 127.47h-8.0M775.00 127.47h8.0M142.20 106.38h-8.0M775.00 106.38h8.0M142.20 85.29h-8.0M775.00 85.29h8.0" stroke="#000" stroke-width="1.1" fill="none"/>
<rect x="142.20" y="64.20" width="632.80" height="632.70" fill="none" stroke="#000" stroke-width="2"/>
<g font-size="28.5"><text transform="translate(66.38 707.10) scale(1 1.0436)">.00</text><text transform="translate(66.38 601.65) scale(1 1.0436)">.10</text><text transform="translate(66.38 496.20) scale(1 1.0436)">.20</text><text transform="translate(66.38 390.75) scale(1 1.0436)">.30</text><text transform="translate(66.38 285.30) scale(1 1.0436)">.40</text><text transform="translate(66.38 179.85) scale(1 1.0436)">.50</text><text transform="translate(66.38 74.40) scale(1 1.0436)">.60</text><text transform="translate(142.20 754.4) scale(1 1.0436)" text-anchor="middle">0</text><text transform="translate(300.40 754.4) scale(1 1.0436)" text-anchor="middle">200</text><text transform="translate(458.60 754.4) scale(1 1.0436)" text-anchor="middle">400</text><text transform="translate(616.80 754.4) scale(1 1.0436)" text-anchor="middle">600</text><text transform="translate(775.00 754.4) scale(1 1.0436)" text-anchor="middle">800</text></g>
<text transform="translate(26.8 380.4) rotate(-90) scale(1 1.0436)" text-anchor="middle" font-size="36.3">Ratio: SNCRcase/Control</text>
<text transform="translate(458.5 804.2) scale(1 1.0436)" text-anchor="middle" font-size="36">Days</text>
<g fill="none" stroke="#000" stroke-width="3.4" stroke-linecap="round"><path d="M648.75 95.90H692.45" stroke-dasharray="7 2.9"/><path d="M648.75 127.52H692.45" stroke-dasharray="14 7.5 3.4 3.1 3.3 7.6"/><path d="M648.75 159.14H692.45" stroke-dasharray="13.5 7.2 3.1 7.3"/><path d="M648.75 190.76H692.45" stroke-dasharray="3.0 6.8"/><path d="M648.75 222.38H692.45" stroke-dasharray="12.7 6.75"/><path d="M648.75 254.00H692.45"/></g>
<g font-size="21.8"><text transform="translate(710.7 103.80) scale(1 1.0436)">55</text><text transform="translate(743.14 103.80) scale(1 1.0436)">N</text><text transform="translate(710.7 135.42) scale(1 1.0436)">45</text><text transform="translate(743.14 135.42) scale(1 1.0436)">N</text><text transform="translate(710.7 167.04) scale(1 1.0436)">35</text><text transform="translate(743.14 167.04) scale(1 1.0436)">N</text><text transform="translate(710.7 198.66) scale(1 1.0436)">25</text><text transform="translate(743.14 198.66) scale(1 1.0436)">N</text><text transform="translate(721.62 230.28) scale(1 1.0436)">5</text><text transform="translate(741.94 230.28) scale(1 1.0436)">N</text><text transform="translate(710.7 261.90) scale(1 1.0436)">5</text><text transform="translate(731.02 261.90) scale(1 1.0436)">N</text></g>
<g fill="none" stroke="#000" stroke-width="1.35"><circle cx="739.24" cy="89.85" r="1.95"/><circle cx="739.24" cy="121.47" r="1.95"/><circle cx="739.24" cy="153.09" r="1.95"/><circle cx="739.24" cy="184.71" r="1.95"/><circle cx="738.04" cy="216.33" r="1.95"/><circle cx="727.12" cy="247.95" r="1.95"/></g>
<path d="M60.77 707.10L60.77 686.69L58.66 686.69C58.18 689.20 57.26 690.11 53.42 690.34L53.42 692.22L57.92 692.22L57.92 707.10ZM60.77 601.65L60.77 581.24L58.66 581.24C58.18 583.75 57.26 584.66 53.42 584.89L53.42 586.77L57.92 586.77L57.92 601.65ZM60.77 496.20L60.77 475.79L58.66 475.79C58.18 478.30 57.26 479.21 53.42 479.44L53.42 481.32L57.92 481.32L57.92 496.20ZM60.77 390.75L60.77 370.34L58.66 370.34C58.18 372.85 57.26 373.76 53.42 373.99L53.42 375.87L57.92 375.87L57.92 390.75ZM60.77 285.30L60.77 264.89L58.66 264.89C58.18 267.40 57.26 268.31 53.42 268.54L53.42 270.42L57.92 270.42L57.92 285.30ZM60.77 179.85L60.77 159.44L58.66 159.44C58.18 161.95 57.26 162.86 53.42 163.09L53.42 164.97L57.92 164.97L57.92 179.85ZM60.77 74.40L60.77 53.99L58.66 53.99C58.18 56.50 57.26 57.41 53.42 57.64L53.42 59.52L57.92 59.52L57.92 74.40ZM718.23 230.28L718.23 214.67L716.61 214.67C716.24 216.59 715.54 217.29 712.60 217.46L712.60 218.90L716.05 218.90L716.05 230.28Z" fill="#000"/>
</svg>
</body></html>
